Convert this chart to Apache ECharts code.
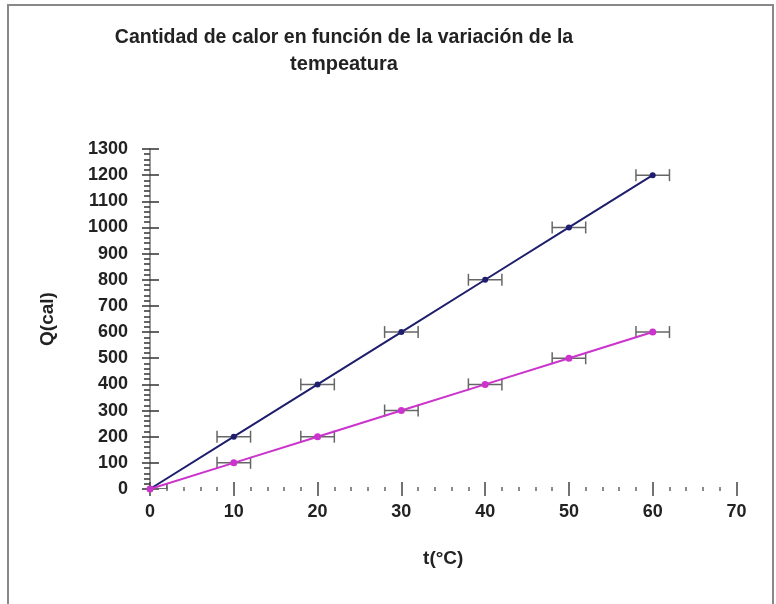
<!DOCTYPE html>
<html>
<head>
<meta charset="utf-8">
<script src="https://cdn.jsdelivr.net/npm/echarts@6/dist/echarts.min.js"></script>
<style>html,body{margin:0;padding:0;background:#fff}#c{width:776px;height:604px}</style>
</head>
<body>
<div id="c"></div>
<script>
const temps = [0, 10, 20, 30, 40, 50, 60];
const qBlue = [0, 200, 400, 600, 800, 1000, 1200];
const qPink = [0, 100, 200, 300, 400, 500, 600];
const tErr = [2, 2, 2, 2, 2, 2, 2];
const titleLine1 = 'Cantidad de calor en función de la variación de la';
const titleLine2 = 'tempeatura';
const xName = 't(°C)';
const yName = 'Q(cal)';

const FONT = '"Liberation Sans", Arial, sans-serif';
const chart = echarts.init(document.getElementById('c'), null, {renderer: 'canvas'});

function errData(ys) {
  return temps.map((t, i) => [t, ys[i], t - tErr[i], t + tErr[i]]);
}
function errRender(params, api) {
  const y = api.value(1);
  const p1 = api.coord([api.value(2), y]);
  const p2 = api.coord([api.value(3), y]);
  const h = 6;
  const st = {stroke: '#666', lineWidth: 1.5};
  return {
    type: 'group',
    children: [
      {type: 'line', shape: {x1: p1[0], y1: p1[1], x2: p2[0], y2: p2[1]}, style: st},
      {type: 'line', shape: {x1: p1[0], y1: p1[1] - h, x2: p1[0], y2: p1[1] + h}, style: st},
      {type: 'line', shape: {x1: p2[0], y1: p2[1] - h, x2: p2[0], y2: p2[1] + h}, style: st}
    ]
  };
}

const gridCfg = {left: 150, right: 39.5, top: 149, bottom: 115, containLabel: false};
const labelStyle = {fontFamily: FONT, fontSize: 18, color: '#222', fontWeight: 'bold', formatter: v => String(v)};

chart.setOption({
  animation: false,
  backgroundColor: '#fff',
  graphic: [{
    type: 'rect', shape: {x: 8, y: 5, width: 765, height: 640},
    style: {fill: 'none', stroke: '#888', lineWidth: 2}, silent: true
  }],
  title: {
    text: '{a|' + titleLine1 + '}\n{b|' + titleLine2 + '}',
    left: 339, top: 19, textAlign: 'center',
    textStyle: {
      rich: {
        a: {fontFamily: FONT, fontSize: 19.5, color: '#222', lineHeight: 27, fontWeight: 'bold'},
        b: {fontFamily: FONT, fontSize: 20, color: '#222', lineHeight: 27, fontWeight: 'bold'}
      }
    }
  },
  grid: gridCfg,
  xAxis: [{
    type: 'value', min: 0, max: 70, interval: 10,
    axisLine: {show: false, onZero: false},
    axisTick: {show: true, length: 7, lineStyle: {color: '#444', width: 1.5}},
    minorTick: {show: true, splitNumber: 5, length: 2, lineStyle: {color: '#666', width: 1.5}},
    splitLine: {show: false},
    axisLabel: Object.assign({margin: 14}, labelStyle),
    name: xName, nameLocation: 'middle', nameGap: 60,
    nameTextStyle: {fontFamily: FONT, fontSize: 19, fontWeight: 'bold', color: '#222'}
  }, {
    type: 'value', min: 0, max: 70, interval: 10, position: 'bottom',
    axisLine: {show: false, onZero: false},
    axisTick: {show: true, inside: true, length: 7, lineStyle: {color: '#444', width: 1.5}},
    minorTick: {show: true, splitNumber: 5, length: 2, lineStyle: {color: '#666', width: 1.5}},
    splitLine: {show: false}, axisLabel: {show: false}
  }],
  yAxis: [{
    type: 'value', min: 0, max: 1300, interval: 100,
    axisLine: {show: true, onZero: false, lineStyle: {color: '#999', width: 2}},
    axisTick: {show: true, length: 8, lineStyle: {color: '#333', width: 1.5}},
    minorTick: {show: true, splitNumber: 5, length: 6, lineStyle: {color: '#333', width: 1.5}},
    splitLine: {show: false},
    axisLabel: Object.assign({margin: 22}, labelStyle),
    name: yName, nameLocation: 'middle', nameGap: 93, nameRotate: 90,
    nameTextStyle: {fontFamily: FONT, fontSize: 19, fontWeight: 'bold', color: '#222'}
  }, {
    type: 'value', min: 0, max: 1300, interval: 100, position: 'left',
    axisLine: {show: false},
    axisTick: {show: true, inside: true, length: 9, lineStyle: {color: '#333', width: 1.5}},
    splitLine: {show: false}, axisLabel: {show: false}
  }],
  series: [{
    type: 'custom', name: 'errBlue', xAxisIndex: 0, yAxisIndex: 0, clip: true,
    renderItem: errRender, data: errData(qBlue), z: 2
  }, {
    type: 'custom', name: 'errPink', xAxisIndex: 0, yAxisIndex: 0, clip: true,
    renderItem: errRender, data: errData(qPink), z: 2
  }, {
    type: 'line', name: 'Q1', xAxisIndex: 0, yAxisIndex: 0,
    data: temps.map((t, i) => [t, qBlue[i]]),
    symbol: 'circle', symbolSize: 6,
    lineStyle: {color: '#1e1e6e', width: 2},
    itemStyle: {color: '#1e1e6e'}, z: 3
  }, {
    type: 'line', name: 'Q2', xAxisIndex: 0, yAxisIndex: 0,
    data: temps.map((t, i) => [t, qPink[i]]),
    symbol: 'circle', symbolSize: 7,
    lineStyle: {color: '#cc33cc', width: 2},
    itemStyle: {color: '#cc33cc'}, z: 4
  }]
});
</script>
</body>
</html>
